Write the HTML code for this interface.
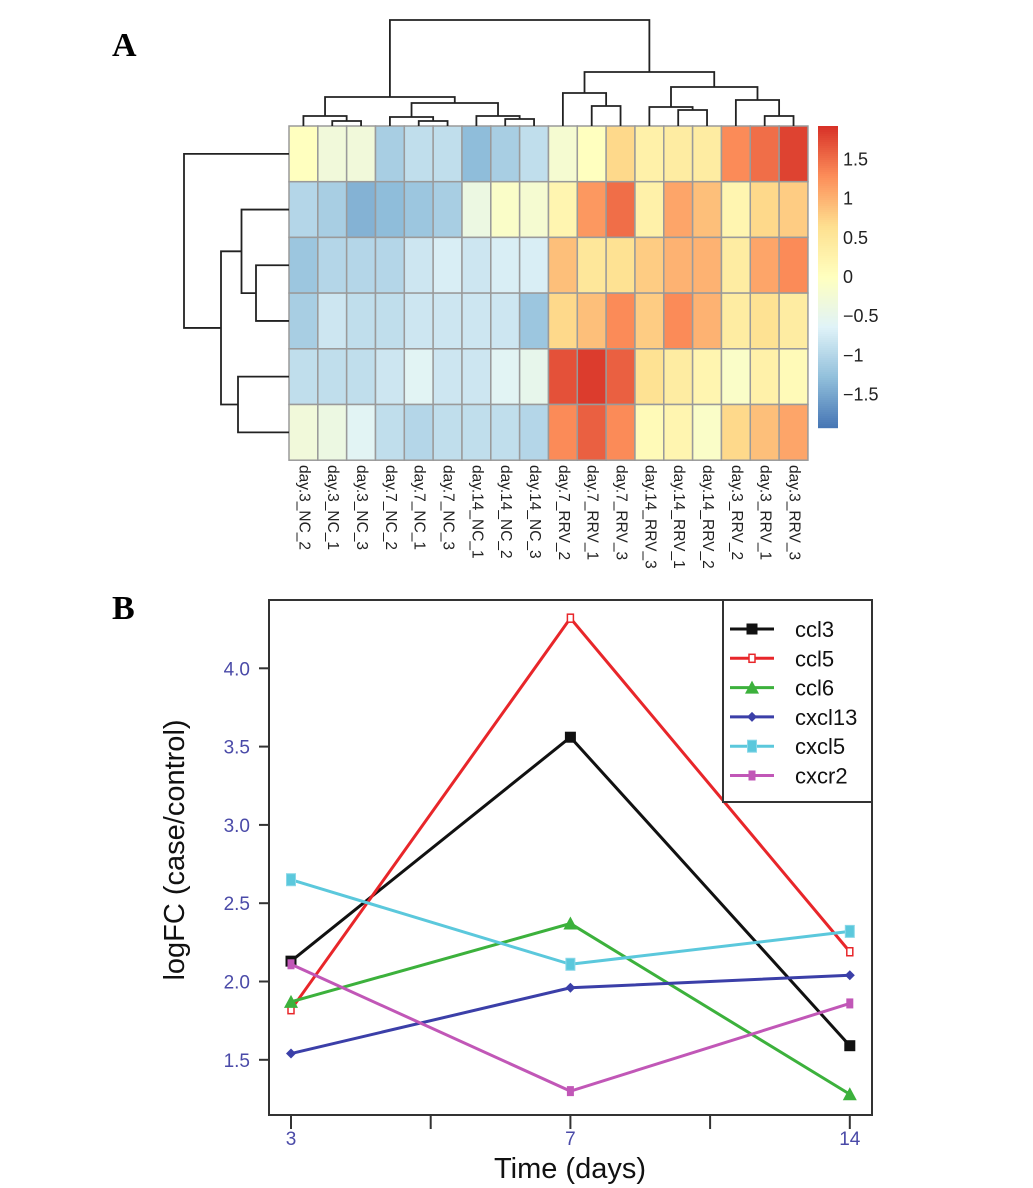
<!DOCTYPE html>
<html><head><meta charset="utf-8"><style>
body{margin:0;background:#fff}
svg{display:block}
text{font-family:"Liberation Sans",sans-serif}
text.serif{font-family:"Liberation Serif",serif}
</style></head><body>
<svg id="fig" width="1033" height="1188" viewBox="0 0 1033 1188" xmlns="http://www.w3.org/2000/svg">
<text class="serif" x="112" y="56" font-weight="bold" font-size="34">A</text>
<text class="serif" x="112" y="619" font-weight="bold" font-size="34">B</text>
<g id="heat"></g>
<g id="line"></g>
</svg>
<script>
const NS="http://www.w3.org/2000/svg";
function mk(tag,attrs,parent){const e=document.createElementNS(NS,tag);for(const k in attrs)e.setAttribute(k,attrs[k]);parent.appendChild(e);return e;}

// ---------- Heatmap data ----------
const colLabels=["day.3_NC_2","day.3_NC_1","day.3_NC_3","day.7_NC_2","day.7_NC_1","day.7_NC_3","day.14_NC_1","day.14_NC_2","day.14_NC_3","day.7_RRV_2","day.7_RRV_1","day.7_RRV_3","day.14_RRV_3","day.14_RRV_1","day.14_RRV_2","day.3_RRV_2","day.3_RRV_1","day.3_RRV_3"];
const row0=[0.0,-0.3,-0.3,-1.1,-0.9,-0.9,-1.3,-1.1,-0.9,-0.2,0.0,0.7,0.3,0.4,0.4,1.3,1.5,1.8];
const row1=[-1.0,-1.1,-1.4,-1.3,-1.2,-1.1,-0.4,-0.1,-0.2,0.2,1.2,1.5,0.3,1.1,0.9,0.2,0.7,0.8];
const row2=[-1.2,-1.0,-1.0,-1.0,-0.8,-0.7,-0.8,-0.7,-0.7,0.9,0.5,0.6,0.8,1.0,1.0,0.4,1.1,1.3];
const row3=[-1.1,-0.8,-0.9,-0.9,-0.8,-0.8,-0.8,-0.8,-1.2,0.7,0.9,1.3,0.8,1.3,1.0,0.4,0.6,0.4];
const row4=[-0.9,-0.9,-0.9,-0.8,-0.6,-0.8,-0.8,-0.6,-0.5,1.7,1.85,1.6,0.6,0.4,0.2,-0.1,0.3,0.1];
const row5=[-0.3,-0.4,-0.6,-0.9,-1.0,-0.9,-0.9,-0.9,-1.0,1.3,1.6,1.3,0.1,0.2,-0.1,0.7,0.9,1.1];
const legendTicks=[1.5,1,0.5,0,-0.5,-1,-1.5];

// ---------- Line chart data ----------
const days=["3","7","14"];
const ccl3=[2.13,3.56,1.59];
const ccl5=[1.82,4.32,2.19];
const ccl6=[1.87,2.37,1.28];
const cxcl13=[1.54,1.96,2.04];
const cxcl5=[2.65,2.11,2.32];
const cxcr2=[2.11,1.30,1.86];
const yTicks=[1.5,2.0,2.5,3.0,3.5,4.0];

// ---------- heatmap drawing ----------
const H=document.getElementById('heat');
const hx0=289,hy0=126,cw=28.83,rh=55.7;
const pal=["#4575B4","#91BFDB","#E0F3F8","#FFFFBF","#FEE090","#FC8D59","#D73027"];
function hex(c){return [1,3,5].map(i=>parseInt(c.substr(i,2),16));}
function color(v){let t=(v+1.93)/3.86;t=Math.max(0,Math.min(1,t))*6;const i=Math.min(5,Math.floor(t)),f=t-i;const a=hex(pal[i]),b=hex(pal[i+1]);return "rgb("+a.map((x,k)=>Math.round(x+(b[k]-x)*f)).join(",")+")";}
const rows=[row0,row1,row2,row3,row4,row5];
rows.forEach((r,ri)=>{r.forEach((v,ci)=>{
  const e=mk('rect',{x:hx0+ci*cw,y:hy0+ri*rh,width:cw,height:rh,fill:color(v),stroke:"#9a9a9a","stroke-width":1.5},H);
  
  
});});
const ccx=i=>hx0+(i+0.5)*cw, rcy=i=>hy0+(i+0.5)*rh;
colLabels.forEach((l,i)=>{
  const t=mk('text',{x:0,y:0,"font-size":15.5,fill:"#222","dominant-baseline":"middle",transform:`translate(${ccx(i)},465) rotate(90)`},H);
  t.textContent=l;
  
  
});
// colorbar
const cbTop=126,cbBot=428,zeroY=277,ppu=78.3;
for(let y=cbTop;y<cbBot;y+=2){const v=(zeroY-(y+1))/ppu;const e=mk('rect',{x:818,y:y,width:20,height:2.2,fill:color(v)},H);
  
  }
legendTicks.forEach(v=>{const t=mk('text',{x:843,y:zeroY-v*ppu+6,"font-size":18,fill:"#222"},H);t.textContent=(v<0?"\u2212"+Math.abs(v):String(v));
  
  });
// dendrograms
const D=mk('g',{stroke:"#222","stroke-width":1.8,fill:"none"},H);


function colNode(a,ay,b,by,h){mk('path',{d:`M${a},${ay}V${h}H${b}V${by}`},D);return (a+b)/2;}
const L=126;
let A=colNode(ccx(1),L,ccx(2),L,121);let n0=colNode(ccx(0),L,A,121,116);
let B=colNode(ccx(4),L,ccx(5),L,121);let n3=colNode(ccx(3),L,B,121,117);
let C=colNode(ccx(7),L,ccx(8),L,119);let n6=colNode(ccx(6),L,C,119,116);
let n36=colNode(n3,117,n6,116,103);let left=colNode(n0,116,n36,103,97);
let Dd=colNode(ccx(10),L,ccx(11),L,106);let n9=colNode(ccx(9),L,Dd,106,93);
let E=colNode(ccx(13),L,ccx(14),L,110);let n12=colNode(ccx(12),L,E,110,107);
let F=colNode(ccx(16),L,ccx(17),L,116);let n15=colNode(ccx(15),L,F,116,100);
let n1215=colNode(n12,107,n15,100,87);let right=colNode(n9,93,n1215,87,72);
colNode(left,97,right,72,20);
function rowNode(a,ax,b,bx,h){mk('path',{d:`M${ax},${a}H${h}V${b}H${bx}`},D);return (a+b)/2;}
const R=289;
let r23=rowNode(rcy(2),R,rcy(3),R,256);let r13=rowNode(rcy(1),R,r23,256,241.5);
let r45=rowNode(rcy(4),R,rcy(5),R,238);let rr=rowNode(r13,241.5,r45,238,221);
rowNode(rcy(0),R,rr,221,184);

// ---------- line chart ----------
const G=document.getElementById('line');
const px0=269,px1=872,py0=600,py1=1115;
const xs=i=>291+i*279.4;
const ys=v=>668.3-(v-4)*156.6;
mk('rect',{x:px0,y:py0,width:px1-px0,height:py1-py0,fill:"none",stroke:"#333","stroke-width":2},G);
yTicks.forEach(v=>{mk('line',{x1:259,x2:px0,y1:ys(v),y2:ys(v),stroke:"#333","stroke-width":2},G);
  const t=mk('text',{x:250,y:ys(v)+7,"font-size":19,fill:"#4a4aa8","text-anchor":"end"},G);t.textContent=v.toFixed(1);
  
  });
for(let k=0;k<5;k++)mk('line',{x1:291+k*139.7,x2:291+k*139.7,y1:py1,y2:1129,stroke:"#333","stroke-width":2},G);
days.forEach((d,i)=>{const t=mk('text',{x:xs(i),y:1145,"font-size":19,fill:"#4a4aa8","text-anchor":"middle"},G);t.textContent=d;
  
  });
const xt=mk('text',{x:570,y:1178,"font-size":29,fill:"#111","text-anchor":"middle"},G);xt.textContent="Time (days)";

const yt=mk('text',{x:0,y:0,"font-size":29,fill:"#111","text-anchor":"middle",transform:"translate(184,850) rotate(-90)"},G);yt.textContent="logFC (case/control)";


const series=[["ccl3",ccl3,"#111","sq"],["ccl5",ccl5,"#e8262a","open"],["ccl6",ccl6,"#3cb13c","tri"],["cxcl13",cxcl13,"#3b3fa8","dia"],["cxcl5",cxcl5,"#5bc8dc","cy"],["cxcr2",cxcr2,"#c157b7","mg"]];
function marker(kind,x,y,c,g){
  if(kind=="sq")return mk('rect',{x:x-5.5,y:y-5.5,width:11,height:11,fill:c},g);
  if(kind=="open")return mk('rect',{x:x-3,y:y-4,width:6,height:8,fill:"#fff",stroke:c,"stroke-width":1.5},g);
  if(kind=="tri")return mk('path',{d:`M${x},${y-7}L${x+7},${y+6}L${x-7},${y+6}Z`,fill:c},g);
  if(kind=="dia")return mk('path',{d:`M${x},${y-5}L${x+5},${y}L${x},${y+5}L${x-5},${y}Z`,fill:c},g);
  if(kind=="cy")return mk('rect',{x:x-4.5,y:y-6,width:9,height:12,fill:c,stroke:"#8ad8e8","stroke-width":1},g);
  return mk('rect',{x:x-3.5,y:y-5,width:7,height:10,fill:c},g);
}
series.forEach(([name,vals,c,k])=>{
  const g=mk('g',{},G);
  
  
  mk('polyline',{points:vals.map((v,i)=>xs(i)+","+ys(v)).join(" "),fill:"none",stroke:c,"stroke-width":3},g);
  vals.forEach((v,i)=>{const m=marker(k,xs(i),ys(v),c,g);
    
    });
});
// legend
const lg=mk('g',{},G);


mk('rect',{x:723,y:600,width:149,height:202,fill:"#fff",stroke:"#333","stroke-width":2},lg);
series.forEach(([name,vals,c,k],i)=>{
  const y=629+i*29.3;
  mk('line',{x1:730,x2:774,y1:y,y2:y,stroke:c,"stroke-width":3},lg);
  const m=marker(k,752,y,c,lg);
  
  
  const t=mk('text',{x:795,y:y+8,"font-size":22,fill:"#111"},lg);t.textContent=name;
  
  
});
</script>
</body></html>
